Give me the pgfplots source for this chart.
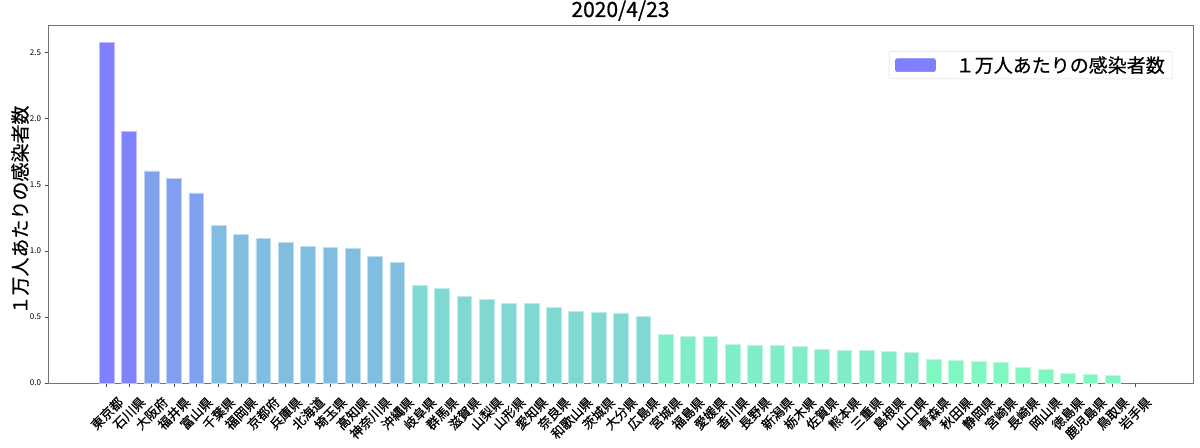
\documentclass[border=0pt]{standalone}
\usepackage{fontspec}
\setmainfont{Noto Sans CJK JP}
\newfontfamily\lab[FakeBold=0.6]{Noto Sans CJK JP}
\usepackage{pgfplots}
\pgfplotsset{compat=1.18}
\definecolor{ca}{HTML}{8080FF}
\definecolor{cb}{HTML}{8084FC}
\definecolor{cc}{HTML}{80A0EE}
\definecolor{cd}{HTML}{80BDE0}
\definecolor{ce}{HTML}{80D8D2}
\definecolor{cf}{HTML}{80ECC8}
\definecolor{cg}{HTML}{80F7C1}
\begin{document}
\begin{tikzpicture}
\begin{axis}[
  scale only axis, width=1145pt, height=358pt,
  xmin=-2.63, xmax=48.6, ymin=0, ymax=2.71,
  ybar, bar width=0.66,
  /pgf/number format/assume math mode=true,
  xtick={0,...,46},
  xticklabels={東京都,石川県,大阪府,福井県,富山県,千葉県,福岡県,京都府,兵庫県,北海道,埼玉県,高知県,神奈川県,沖縄県,岐阜県,群馬県,滋賀県,山梨県,山形県,愛知県,奈良県,和歌山県,茨城県,大分県,広島県,宮城県,福島県,愛媛県,香川県,長野県,新潟県,栃木県,佐賀県,熊本県,三重県,島根県,山口県,青森県,秋田県,静岡県,宮崎県,長崎県,岡山県,徳島県,鹿児島県,鳥取県,岩手県},
  xticklabel style={font=\lab\fontsize{13}{14}\selectfont, inner sep=0pt, xshift=14pt, yshift=-13pt, rotate=45, anchor=east},
  ytick={0,0.5,1,1.5,2,2.5},
  yticklabel style={font=\fontsize{8}{9}\selectfont, /pgf/number format/fixed, /pgf/number format/fixed zerofill, /pgf/number format/precision=1},
  tick align=outside, xtick pos=bottom, ytick pos=left,
  major tick length=3.5pt,
  axis line style={black!55, line width=0.8pt},
  every tick/.style={black!70, line width=0.6pt},
  title={2020/4/23},
  title style={font=\lab\fontsize{21}{22}\selectfont, at={(axis description cs:0.5,1)}, anchor=base, yshift=2pt, inner sep=0pt},
  ylabel={１万人あたりの感染者数},
  every axis y label/.style={at={(axis description cs:0,0.5)}, xshift=-28pt, yshift=-6pt, rotate=90, anchor=center, font=\lab\fontsize{19}{20}\selectfont},
  legend image code/.code={\fill[ca] (0pt,-6.5pt) rectangle (40pt,6.5pt);},
  legend style={at={(0.9825,0.927)}, anchor=north east, font=\lab\fontsize{19}{22}\selectfont, draw=black!15, rounded corners=2pt, inner xsep=6pt, inner ysep=3pt},
]
\coordinate (bl) at (rel axis cs:0,0);
\coordinate (tr) at (rel axis cs:1,1);
\addplot[bar shift=0pt, fill=ca, draw=ca!50!white, line width=0.6pt] coordinates {(0,2.576)};
\addlegendentry{\hspace{18pt}１万人あたりの感染者数}
\addplot[forget plot, bar shift=0pt, fill=cb, draw=cb!50!white, line width=0.6pt] coordinates {(1,1.903)};
\addplot[forget plot, bar shift=0pt, fill=cc, draw=cc!50!white, line width=0.6pt] coordinates {(2,1.606) (3,1.551) (4,1.439)};
\addplot[forget plot, bar shift=0pt, fill=cd, draw=cd!50!white, line width=0.6pt] coordinates {(5,1.195) (6,1.122) (7,1.097) (8,1.066) (9,1.033) (10,1.029) (11,1.021) (12,0.961) (13,0.911)};
\addplot[forget plot, bar shift=0pt, fill=ce, draw=ce!50!white, line width=0.6pt] coordinates {(14,0.736) (15,0.719) (16,0.655) (17,0.630) (18,0.605) (19,0.600) (20,0.575) (21,0.545) (22,0.537) (23,0.530) (24,0.507)};
\addplot[forget plot, bar shift=0pt, fill=cf, draw=cf!50!white, line width=0.6pt] coordinates {(25,0.371) (26,0.350) (27,0.350) (28,0.295) (29,0.287) (30,0.282) (31,0.275) (32,0.255) (33,0.244) (34,0.244) (35,0.237) (36,0.232)};
\addplot[forget plot, bar shift=0pt, fill=cg, draw=cg!50!white, line width=0.6pt] coordinates {(37,0.176) (38,0.171) (39,0.163) (40,0.158) (41,0.120) (42,0.103) (43,0.070) (44,0.063) (45,0.058)};
\end{axis}
\pgfresetboundingbox
\path ([shift={(-48pt,-64pt)}]bl) rectangle ([shift={(7pt,25pt)}]tr);
\end{tikzpicture}
\end{document}
